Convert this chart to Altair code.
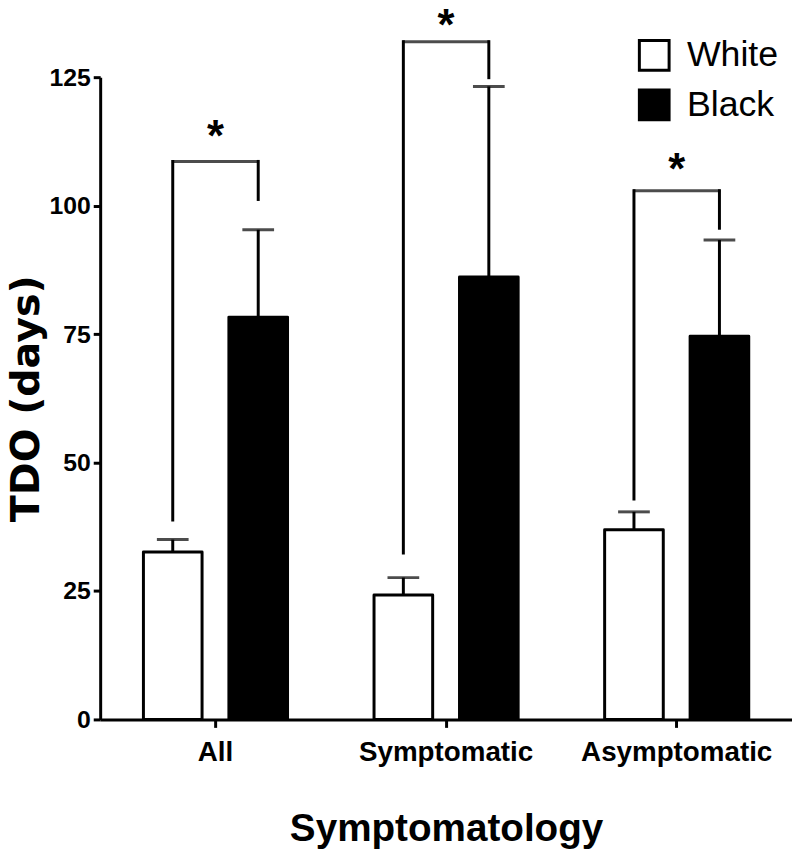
import altair as alt
import pandas as pd

# ---- data ----
groups = ["All", "Symptomatic", "Asymptomatic"]
series = ["White", "Black"]
white_mean = [32.6, 24.2, 36.9]
white_upper = [35.0, 27.6, 40.4]
black_mean = [78.3, 86.1, 74.6]
black_upper = [95.3, 123.2, 93.3]
bracket_top = [108.6, 131.9, 102.9]
bracket_left_bottom = [38.8, 32.4, 42.9]
bracket_right_bottom = [101.2, 124.9, 95.6]
star_y = [110.6, 132.3, 104.3]
y_ticks = [0, 25, 50, 75, 100, 125]

rows = []
for i, g in enumerate(groups):
    rows.append({"group": g, "series": "White", "mean": white_mean[i], "upper": white_upper[i]})
    rows.append({"group": g, "series": "Black", "mean": black_mean[i], "upper": black_upper[i]})
bars_df = pd.DataFrame(rows)

vrows = []
for i, g in enumerate(groups):
    vrows.append({"group": g, "series": "White", "y": bracket_left_bottom[i], "y2": bracket_top[i]})
    vrows.append({"group": g, "series": "Black", "y": bracket_right_bottom[i], "y2": bracket_top[i]})
vert_df = pd.DataFrame(vrows)

horiz_df = pd.DataFrame({"group": groups, "top": bracket_top})
star_df = pd.DataFrame({"group": groups, "y": star_y, "label": ["*"] * 3})

FONT = "Liberation Sans"

x_enc = alt.X(
    "group:N",
    sort=groups,
    scale=alt.Scale(paddingInner=0, paddingOuter=0),
    axis=alt.Axis(
        title="Symptomatology",
        labelAngle=0,
        labelAlign="center",
        labelBaseline="top",
        labelLimit=1000,
        labelFont=FONT,
        labelFontSize=28,
        labelFontWeight="bold",
        labelColor="black",
        labelPadding=11,
        tickSize=8,
        tickWidth=3,
        tickColor="black",
        domainWidth=3,
        domainColor="black",
        titleFont=FONT,
        titleFontSize=39,
        titleFontWeight="bold",
        titleColor="black",
        titlePadding=44,
        grid=False,
    ),
)
xoff_enc = alt.XOffset(
    "series:N",
    sort=series,
    scale=alt.Scale(paddingInner=0.314, paddingOuter=0.506),
)
y_scale = alt.Scale(domain=[0, 125], nice=False, zero=True)
y_axis = alt.Axis(
    title="TDO (days)",
    values=y_ticks,
    labelFont=FONT,
    labelFontSize=25,
    labelFontWeight="bold",
    labelColor="black",
    labelPadding=3,
    tickSize=7,
    tickWidth=3,
    tickColor="black",
    domainWidth=3,
    domainColor="black",
    titleFont="DejaVu Sans",
    titleFontSize=40,
    titleFontWeight="bold",
    titleColor="black",
    titlePadding=3,
    grid=False,
)

bars = alt.Chart(bars_df).mark_bar(stroke="black", strokeWidth=3, strokeJoin="round").encode(
    x=x_enc,
    xOffset=xoff_enc,
    y=alt.Y("mean:Q", scale=y_scale, axis=y_axis),
    fill=alt.Fill(
        "series:N",
        sort=series,
        scale=alt.Scale(domain=series, range=["white", "black"]),
        legend=alt.Legend(
            title=None,
            orient="none",
            legendX=541,
            legendY=-40,
            symbolType="square",
            symbolSize=900,
            symbolStrokeWidth=3,
            symbolStrokeColor="black",
            labelFont=FONT,
            labelFontSize=36,
            labelFontWeight="normal",
            labelColor="black",
            labelOffset=15,
            rowPadding=8,
            padding=0,
        ),
    ),
)

err = alt.Chart(bars_df).mark_rule(color="black", strokeWidth=3).encode(
    x=alt.X("group:N", sort=groups),
    xOffset=alt.XOffset("series:N", sort=series),
    y=alt.Y("mean:Q", scale=y_scale),
    y2="upper:Q",
)
caps = alt.Chart(bars_df).mark_tick(color="black", orient="horizontal", size=32, thickness=3).encode(
    x=alt.X("group:N", sort=groups),
    xOffset=alt.XOffset("series:N", sort=series),
    y=alt.Y("upper:Q", scale=y_scale),
)

vlines = alt.Chart(vert_df).mark_rule(color="black", strokeWidth=3, strokeCap="square").encode(
    x=alt.X("group:N", sort=groups),
    xOffset=alt.XOffset("series:N", sort=series),
    y=alt.Y("y:Q", scale=y_scale),
    y2="y2:Q",
)
hlines = alt.Chart(horiz_df).mark_tick(color="black", orient="horizontal", size=88, thickness=3).encode(
    x=alt.X("group:N", sort=groups),
    y=alt.Y("top:Q", scale=y_scale),
)
stars = alt.Chart(star_df).mark_text(
    font=FONT, fontSize=44, fontWeight="bold", color="black", baseline="alphabetic", align="center"
).encode(
    x=alt.X("group:N", sort=groups),
    y=alt.Y("y:Q", scale=y_scale),
    text="label:N",
)

chart = (
    alt.layer(bars, err, caps, vlines, hlines, stars)
    .properties(
        width=698,
        height=648,
        background="white",
        autosize=alt.AutoSizeParams(type="none"),
        padding={"left": 93, "top": 66, "right": 0, "bottom": 135},
    )
    .configure_view(strokeWidth=0, stroke="transparent")
    .configure_axis(grid=False)
)

chart.save("out.html", embed_options={"renderer": "svg", "actions": False})
